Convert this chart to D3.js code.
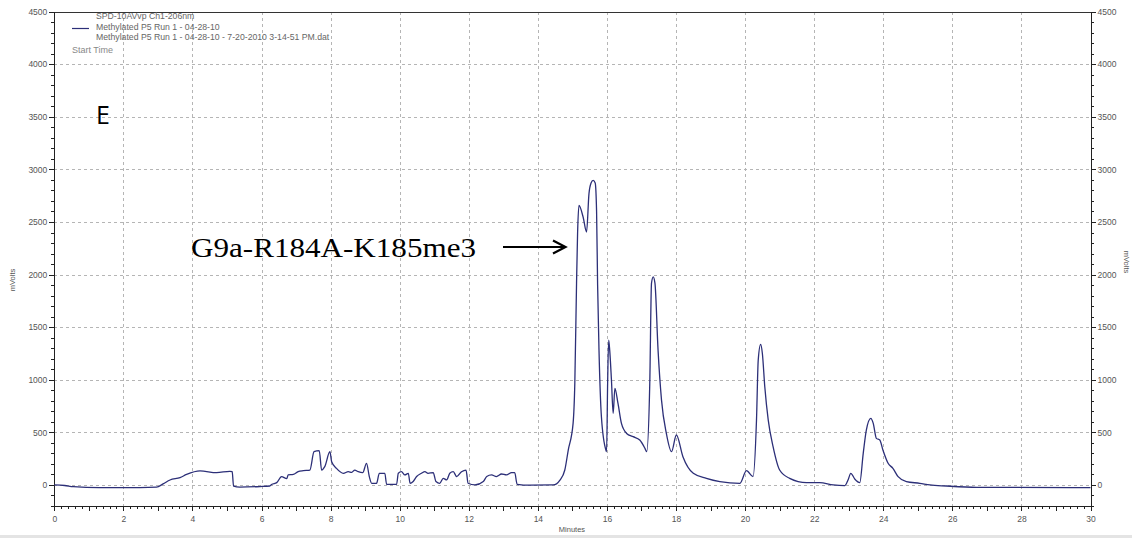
<!DOCTYPE html>
<html>
<head>
<meta charset="utf-8">
<script src="https://cdn.jsdelivr.net/npm/d3@7"></script>
<style>
  body { margin: 0; background: #fff; }
  svg { display: block; font-family: "Liberation Sans", Arial, sans-serif; }
  .axis path, .axis line { stroke: #222; shape-rendering: crispEdges; }
  .axis text { fill: #555; font-size: 8.5px; }
  .grid line { stroke: #b5b5b5; stroke-dasharray: 3,3; shape-rendering: crispEdges; }
</style>
</head>
<body>
<svg id="chart" width="1132" height="538"></svg>
<script>
// retention time (minutes) and detector signal (mVolts)
var minutes = [
    0.00, 0.30, 0.55, 1.30, 2.00, 2.96, 3.15, 3.35, 3.64, 3.83, 4.22, 4.70, 5.08, 5.15, 5.19, 5.37,
    5.95, 6.24, 6.29, 6.44, 6.58, 6.73, 6.77, 6.92, 7.06, 7.21, 7.40, 7.52, 7.67, 7.74, 7.83, 7.98,
    8.03, 8.17, 8.37, 8.51, 8.61, 8.70, 8.80, 8.93, 9.04, 9.12, 9.19, 9.33, 9.41, 9.57, 9.62, 9.91,
    9.96, 10.05, 10.15, 10.25, 10.30, 10.39, 10.49, 10.63, 10.73, 10.82, 10.97, 11.05, 11.16, 11.26,
    11.36, 11.45, 11.55, 11.65, 11.79, 11.92, 11.98, 12.18, 12.42, 12.52, 12.66, 12.80, 12.95, 13.09,
    13.24, 13.33, 13.40, 13.77, 14.44, 14.64, 14.78, 14.88, 15.02, 15.07, 15.12, 15.15, 15.19, 15.31,
    15.41, 15.48, 15.54, 15.60, 15.66, 15.70, 15.73, 15.77, 15.84, 15.97, 15.99, 16.02, 16.05, 16.08,
    16.13, 16.18, 16.23, 16.32, 16.42, 16.57, 16.76, 16.95, 17.10, 17.15, 17.24, 17.29, 17.34, 17.39,
    17.48, 17.58, 17.72, 17.87, 18.01, 18.20, 18.50, 18.88, 19.27, 19.85, 20.04, 20.23, 20.33, 20.38,
    20.45, 20.50, 20.57, 20.67, 20.81, 21.00, 21.29, 21.78, 22.16, 22.55, 22.89, 22.98, 23.06, 23.18,
    23.32, 23.42, 23.51, 23.64, 23.71, 23.80, 23.90, 23.99, 24.14, 24.28, 24.43, 24.67, 25.06, 25.35,
    25.83, 26.70, 30.00
];
var mVolts = [
    0, -5, -16, -25, -25, -20, 10, 47, 70, 100, 133, 117, 130, 126, -10, -20,
    -15, -10, 5, 22, 80, 60, 95, 100, 127, 136, 142, 316, 326, 142, 174, 316,
    221, 158, 111, 126, 120, 142, 126, 117, 206, 80, 16, 16, 111, 111, 6, 6,
    111, 126, 95, 111, 16, 33, 80, 111, 126, 111, 117, 33, 16, 63,
    48, 111, 126, 80, 126, 142, 16, 0, 33, 80, 95, 80, 104, 95,
    117, 117, 6, -2, 0, 47, 142, 332, 586, 968, 1918, 2392, 2658, 2547,
    2405, 2769, 2870, 2895, 2870, 2600, 1900, 1282, 648, 332, 316, 965, 1377, 1282,
    1000, 681, 918, 775, 585, 490, 459, 427, 348, 316, 965, 1918, 1978, 1918,
    1282, 807, 490, 316, 475, 269, 111, 63, 32, 16, 136, 79, 617, 1187,
    1336, 1250, 933, 617, 364, 142, 63, 22, 22, 0, -6, 47, 111, 54,
    22, 301, 522, 633, 585, 443, 427, 332, 206, 158, 79, 32, 16, 0,
    -10, -22, -25
];

var xTicks = [0, 2, 4, 6, 8, 10, 12, 14, 16, 18, 20, 22, 24, 26, 28, 30];
var yTicks = [0, 500, 1000, 1500, 2000, 2500, 3000, 3500, 4000, 4500];
var legendLines = [
    "SPD-10AVvp Ch1-206nm",
    "Methylated P5 Run 1 - 04-28-10",
    "Methylated P5 Run 1 - 04-28-10 - 7-20-2010 3-14-51 PM.dat"
];

var svg = d3.select("#chart");
var x = d3.scaleLinear().domain([0, 30]).range([54.3, 1090.5]);
var y = d3.scaleLinear().domain([-200, 4500]).range([506, 11.6]);
var plain = d3.format("d");

// dashed grid
var grid = svg.append("g").attr("class", "grid");
grid.selectAll(".gx").data(xTicks.slice(1, -1)).enter().append("line")
    .attr("x1", function (d) { return Math.round(x(d)) + 0.5; })
    .attr("x2", function (d) { return Math.round(x(d)) + 0.5; })
    .attr("y1", y(4500)).attr("y2", y(-200));
grid.selectAll(".gy").data(yTicks.slice(0, -1)).enter().append("line")
    .attr("y1", function (d) { return Math.round(y(d)) + 0.5; })
    .attr("y2", function (d) { return Math.round(y(d)) + 0.5; })
    .attr("x1", x(0)).attr("x2", x(30));

// top border
svg.append("line")
    .attr("x1", x(0)).attr("x2", x(30))
    .attr("y1", Math.round(y(4500)) + 0.5).attr("y2", Math.round(y(4500)) + 0.5)
    .attr("stroke", "#333").attr("shape-rendering", "crispEdges");

// minor ticks first, then the labelled axes on top
var minorY = d3.range(-200, 4501, 100);
var minorX = d3.range(0, 30.001, 0.2);
var oneMin = d3.range(0, 31, 1);

svg.append("g").attr("class", "axis").attr("transform", "translate(" + x(0) + ",0)")
    .call(d3.axisLeft(y).tickValues(minorY).tickSize(3).tickFormat(""));
svg.append("g").attr("class", "axis").attr("transform", "translate(" + x(0) + ",0)")
    .call(d3.axisLeft(y).tickValues(yTicks).tickSize(5).tickPadding(2).tickSizeOuter(0).tickFormat(plain));

svg.append("g").attr("class", "axis").attr("transform", "translate(" + x(30) + ",0)")
    .call(d3.axisRight(y).tickValues(minorY).tickSize(3).tickFormat(""));
svg.append("g").attr("class", "axis").attr("transform", "translate(" + x(30) + ",0)")
    .call(d3.axisRight(y).tickValues(yTicks).tickSize(5).tickPadding(2).tickSizeOuter(0).tickFormat(plain));

svg.append("g").attr("class", "axis").attr("transform", "translate(0," + y(-200) + ")")
    .call(d3.axisBottom(x).tickValues(minorX).tickSize(3).tickFormat(""));
svg.append("g").attr("class", "axis").attr("transform", "translate(0," + y(-200) + ")")
    .call(d3.axisBottom(x).tickValues(oneMin).tickSize(5).tickFormat(""));
svg.append("g").attr("class", "axis").attr("transform", "translate(0," + y(-200) + ")")
    .call(d3.axisBottom(x).tickValues(xTicks).tickSize(5).tickPadding(5).tickSizeOuter(0).tickFormat(plain));

// axis titles
svg.append("text").attr("transform", "translate(15,280)rotate(-90)")
    .attr("text-anchor", "middle").attr("font-size", "7.5px").attr("fill", "#555")
    .text("mVolts");
svg.append("text").attr("transform", "translate(1124,262)rotate(90)")
    .attr("text-anchor", "middle").attr("font-size", "7.5px").attr("fill", "#555")
    .text("mVolts");
svg.append("text").attr("x", 572).attr("y", 532)
    .attr("text-anchor", "middle").attr("font-size", "7.5px").attr("fill", "#555")
    .text("Minutes");

// window frame strip at the bottom
svg.append("rect").attr("x", 0).attr("y", 535).attr("width", 1132).attr("height", 3).attr("fill", "#e4e4e4");

// trace
var line = d3.line()
    .curve(d3.curveMonotoneX)
    .x(function (d) { return x(d[0]); })
    .y(function (d) { return y(d[1]); });
svg.append("path")
    .datum(d3.zip(minutes, mVolts))
    .attr("d", line)
    .attr("fill", "none")
    .attr("stroke", "#2c2f78")
    .attr("stroke-width", 1.3)
    .attr("stroke-linejoin", "round");

// legend
var legend = svg.append("g").attr("font-size", "8.7px").attr("fill", "#666");
legend.selectAll("text").data(legendLines).enter().append("text")
    .attr("x", 96)
    .attr("y", function (d, i) { return 19 + i * 10.5; })
    .text(function (d) { return d; });
legend.append("line").attr("x1", 72).attr("x2", 89).attr("y1", 28.5).attr("y2", 28.5)
    .attr("stroke", "#2c2f78").attr("stroke-width", 1.2);
svg.append("text").attr("x", 72).attr("y", 53).attr("font-size", "9px").attr("fill", "#888")
    .text("Start Time");

// panel letter and annotation
svg.append("text").attr("x", 96).attr("y", 124).attr("font-family", "'Open Sans', sans-serif")
    .attr("font-size", "25px").attr("fill", "#000").text("E");
svg.append("text").attr("x", 191).attr("y", 257)
    .attr("font-family", "'Liberation Serif', 'Times New Roman', serif")
    .attr("font-size", "28px").attr("fill", "#000")
    .attr("textLength", 285).attr("lengthAdjust", "spacingAndGlyphs")
    .text("G9a-R184A-K185me3");
var arrowY = 247;
svg.append("line").attr("x1", 503).attr("x2", 565).attr("y1", arrowY).attr("y2", arrowY)
    .attr("stroke", "#000").attr("stroke-width", 2.2);
svg.append("path").attr("d", "M553,240.5L565.5," + arrowY + "L553,253.5")
    .attr("fill", "none").attr("stroke", "#000").attr("stroke-width", 2.2);
</script>
</body>
</html>
